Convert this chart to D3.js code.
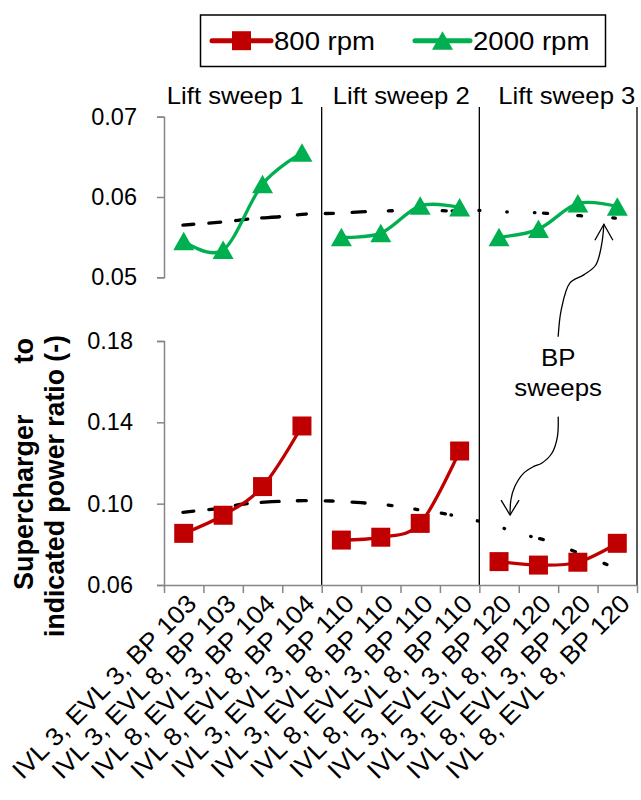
<!DOCTYPE html>
<html><head><meta charset="utf-8">
<script src="https://cdn.jsdelivr.net/npm/d3@7/dist/d3.min.js"></script>
<style>
html,body{margin:0;padding:0;background:#fff;}
svg{display:block;font-family:"Liberation Sans",Arial,sans-serif;}
</style></head>
<body>
<svg id="chart" width="641" height="800"></svg>
<script>
// ---------------- DATA ----------------
const categories = [
  "IVL 3, EVL 3, BP 103", "IVL 3, EVL 8, BP 103", "IVL 8, EVL 3, BP 104", "IVL 8, EVL 8, BP 104",
  "IVL 3, EVL 3, BP 110", "IVL 3, EVL 8, BP 110", "IVL 8, EVL 3, BP 110", "IVL 8, EVL 8, BP 110",
  "IVL 3, EVL 3, BP 120", "IVL 3, EVL 8, BP 120", "IVL 8, EVL 3, BP 120", "IVL 8, EVL 8, BP 120"
];
const groups = ["Lift sweep 1", "Lift sweep 2", "Lift sweep 3"];
const groupLabelPos = [1.81, 6.02, 10.22];
const rpm800 = [0.0854, 0.0943, 0.1084, 0.1382, 0.0821, 0.0835, 0.0903, 0.1259, 0.0715, 0.0698, 0.0712, 0.0805];
const rpm2000 = [0.0545, 0.0534, 0.0616, 0.0655, 0.0550, 0.0555, 0.0589, 0.0587, 0.0550, 0.0560, 0.0592, 0.0588];
// BP-sweep trend (dashed), position in category units
const trendPos = [0.48, 1.0, 1.55, 2.3, 2.95, 3.6, 4.3, 5.1, 6.0, 6.55, 7.2, 8.05, 8.75, 9.45, 9.7, 10.55, 11.45];
const trend2000 = [0.0565, 0.0567, 0.05692, 0.05732, 0.05755, 0.05788, 0.05797, 0.05817, 0.05832, 0.05838, 0.05828, 0.05832, 0.05813, 0.05804, 0.05797, 0.05767, 0.05738];
const trendPos800 = [0.48, 1.47, 2.03, 2.74, 3.55, 4.26, 5.0, 5.81, 6.49, 7.15, 8.04, 8.70, 9.36, 9.72, 10.53, 11.37];
const trend800 = [0.09576, 0.09788, 0.09984, 0.10097, 0.10147, 0.10132, 0.10048, 0.09901, 0.09689, 0.09492, 0.09114, 0.08740, 0.08361, 0.08179, 0.07559, 0.06900];
const ticksTop = [0.05, 0.06, 0.07];
const ticksBottom = [0.06, 0.10, 0.14, 0.18];
const seriesNames = ["800 rpm", "2000 rpm"];
const yTitle = ["Supercharger to", "indicated power ratio (-)"];
const annotation = ["BP", "sweeps"];
// annotation arrows (category units, value units)
const arrowUpPos = [10.0, 10.08, 10.3, 10.65, 10.95, 11.1, 11.16];
const arrowUpVal = [0.0426, 0.0460, 0.0493, 0.0503, 0.0515, 0.0540, 0.0566];
const arrowDownPos = [10.0, 9.98, 9.84, 9.58, 9.37, 9.12, 8.90, 8.80, 8.78];
const arrowDownVal = [0.1428, 0.1329, 0.1248, 0.1199, 0.1182, 0.1149, 0.1084, 0.1018, 0.0944];

// ---------------- LAYOUT ----------------
const RED = "#C00000", GREEN = "#00B050", AXIS = "#868686";
const svg = d3.select("#chart");
const x = d3.scaleLinear().domain([0, 12]).range([164, 637]);
const yTop = d3.scaleLinear().domain([0.05, 0.07]).range([277.3, 116.7]);
const yBot = d3.scaleLinear().domain([0.06, 0.18]).range([585, 341]);

function stretch(sel, f) {
  sel.each(function () {
    const L = this.getComputedTextLength();
    this.setAttribute("textLength", L * f);
    this.setAttribute("lengthAdjust", "spacingAndGlyphs");
  });
}

// dividers
svg.append("g").selectAll("line").data([4, 8, 12]).join("line")
  .attr("x1", d => x(d)).attr("x2", d => x(d))
  .attr("y1", 107).attr("y2", yBot(0.06))
  .attr("stroke", "#000").attr("stroke-width", 1.3);

// axes
function styleAxis(g) {
  g.select(".domain").attr("stroke", AXIS).attr("stroke-width", 1.5);
  g.selectAll(".tick line").attr("stroke", AXIS).attr("stroke-width", 1.5);
  g.selectAll(".tick text").attr("fill", "#000").attr("font-size", 23.5)
    .attr("font-family", "Liberation Sans, Arial, sans-serif");
}
svg.append("g").attr("transform", `translate(${x(0)},0)`)
  .call(d3.axisLeft(yTop).tickValues(ticksTop).tickFormat(d3.format(".2f")).tickSize(7).tickSizeOuter(7).tickPadding(20))
  .call(styleAxis);
svg.append("g").attr("transform", `translate(${x(0)},0)`)
  .call(d3.axisLeft(yBot).tickValues(ticksBottom).tickFormat(d3.format(".2f")).tickSize(7).tickSizeOuter(7).tickPadding(24))
  .call(styleAxis);
const xAxis = svg.append("g").attr("transform", `translate(0,${yBot(0.06)})`)
  .call(d3.axisBottom(x).tickValues(d3.range(0, 13)).tickFormat("").tickSize(8).tickSizeOuter(0));
xAxis.select(".domain").attr("stroke", AXIS).attr("stroke-width", 1.5);
xAxis.selectAll(".tick line").attr("stroke", AXIS).attr("stroke-width", 1.5);

// category labels
const catLabels = svg.append("g").selectAll("text").data(categories).join("text")
  .attr("transform", (d, i) => `translate(${x(i + 0.5) + 8},${yBot(0.06) + 14}) rotate(-45)`)
  .attr("text-anchor", "end").attr("dy", "0.35em")
  .attr("font-size", 25).text(d => d);
stretch(catLabels, 1.06);

// group labels
const gl = svg.append("g").selectAll("text").data(groups).join("text")
  .attr("x", (d, i) => x(groupLabelPos[i])).attr("y", 104)
  .attr("text-anchor", "middle").attr("font-size", 24).text(d => d);
stretch(gl, 1.07);

// y title (two rotated lines)
const yt1 = svg.append("text").attr("transform", "translate(33,338) rotate(-90)")
  .attr("text-anchor", "end").attr("font-weight", "bold").attr("font-size", 27).text(yTitle[0]);
const L1 = yt1.node().getComputedTextLength();
yt1.attr("word-spacing", 252 - L1);
const yt2 = svg.append("text").attr("transform", "translate(63.5,335) rotate(-90)")
  .attr("text-anchor", "end").attr("font-weight", "bold").attr("font-size", 27).text(yTitle[1]);
yt2.attr("textLength", 302).attr("lengthAdjust", "spacingAndGlyphs");

// trend lines (dashed)
const dashes = "11,15,12,15,12,14,18,18,9,19,8,19,13,23,4,23,3,24,4,6,0.5,26,1,27,0.5,27,0.5,9,4,30,4,31,3,200";
const trendLine = (ys, pos) => d3.line().x((d, i) => x(pos[i])).y(d => ys(d)).curve(d3.curveCatmullRom.alpha(0.5));
svg.append("path").attr("d", trendLine(yTop, trendPos)(trend2000))
  .attr("fill", "none").attr("stroke", "#000").attr("stroke-width", 3.3)
  .attr("stroke-linecap", "round").attr("stroke-dasharray", dashes);
svg.append("path").attr("d", trendLine(yBot, trendPos800)(trend800))
  .attr("fill", "none").attr("stroke", "#000").attr("stroke-width", 3.3)
  .attr("stroke-linecap", "round").attr("stroke-dasharray", dashes);

// series lines, per lift sweep
const seriesLine = ys => d3.line().x(d => x(d.i + 0.5)).y(d => ys(d.v)).curve(d3.curveCardinal.tension(0));
function drawSeries(vals, ys, color, marker) {
  const pts = vals.map((v, i) => ({ i, v }));
  for (let g = 0; g < 3; g++) {
    svg.append("path").attr("d", seriesLine(ys)(pts.slice(g * 4, g * 4 + 4)))
      .attr("fill", "none").attr("stroke", color).attr("stroke-width", 3.3);
  }
  svg.append("g").selectAll("path").data(pts).join("path")
    .attr("transform", d => `translate(${x(d.i + 0.5)},${ys(d.v)})`)
    .attr("d", marker).attr("fill", color);
}
const squarePath = "M-9.5,-9.5H9.5V9.5H-9.5Z";
const triPath = "M0,-9.5L10.5,9L-10.5,9Z";
drawSeries(rpm800, yBot, RED, squarePath);
drawSeries(rpm2000, yTop, GREEN, triPath);

// annotation
const ann = svg.append("g");
const annText = ann.selectAll("text").data(annotation).join("text")
  .attr("x", x(10.0)).attr("y", (d, i) => 366 + i * 30)
  .attr("text-anchor", "middle").attr("font-size", 23.5).text(d => d);
stretch(annText, 1.1);
const arrowUp = d3.line().x((d, i) => x(arrowUpPos[i])).y(d => yTop(d)).curve(d3.curveCatmullRom);
ann.append("path").attr("d", arrowUp(arrowUpVal)).attr("fill", "none").attr("stroke", "#000").attr("stroke-width", 1.3);
const arrowDown = d3.line().x((d, i) => x(arrowDownPos[i])).y(d => yBot(d)).curve(d3.curveCatmullRom);
ann.append("path").attr("d", arrowDown(arrowDownVal)).attr("fill", "none").attr("stroke", "#000").attr("stroke-width", 1.3);
const head = d3.line();
const tipU = [x(arrowUpPos[arrowUpPos.length - 1]), yTop(arrowUpVal[arrowUpVal.length - 1])];
ann.append("path").attr("d", head([[tipU[0] - 9, tipU[1] + 16], tipU, [tipU[0] + 9, tipU[1] + 16]]))
  .attr("fill", "none").attr("stroke", "#000").attr("stroke-width", 1.3);
const tipD = [x(arrowDownPos[arrowDownPos.length - 1]), yBot(arrowDownVal[arrowDownVal.length - 1])];
ann.append("path").attr("d", head([[tipD[0] - 9, tipD[1] - 15], tipD, [tipD[0] + 9, tipD[1] - 15]]))
  .attr("fill", "none").attr("stroke", "#000").attr("stroke-width", 1.3);

// legend
const lg = svg.append("g");
lg.append("rect").attr("x", 200.5).attr("y", 15).attr("width", 405).attr("height", 51.5)
  .attr("fill", "#fff").attr("stroke", "#000").attr("stroke-width", 1.5);
const legendItems = [
  { name: seriesNames[0], color: RED, marker: squarePath, x0: 212, x1: 271, tx: 274 },
  { name: seriesNames[1], color: GREEN, marker: triPath, x0: 415, x1: 470, tx: 473 }
];
legendItems.forEach(it => {
  lg.append("line").attr("x1", it.x0).attr("x2", it.x1).attr("y1", 40.7).attr("y2", 40.7)
    .attr("stroke", it.color).attr("stroke-width", 5).attr("stroke-linecap", "round");
  lg.append("path").attr("transform", `translate(${(it.x0 + it.x1) / 2},40.7)`).attr("d", it.marker).attr("fill", it.color);
  const t = lg.append("text").attr("x", it.tx).attr("y", 49.5).attr("font-size", 25.5).text(it.name);
  stretch(t, 1.08);
});
</script>
</body></html>
